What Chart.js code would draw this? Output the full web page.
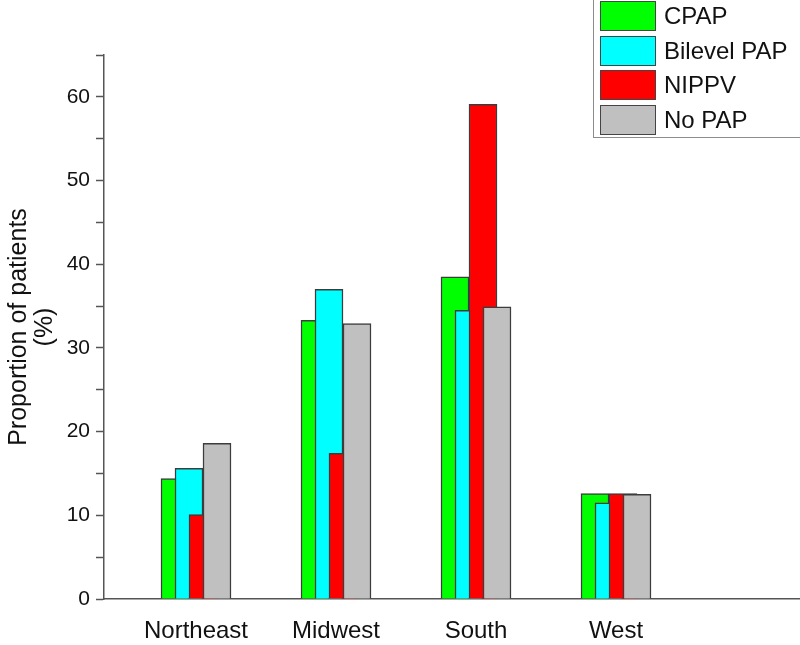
<!DOCTYPE html>
<html>
<head>
<meta charset="utf-8">
<script src="https://cdn.jsdelivr.net/npm/chart.js@4.4.0/dist/chart.umd.min.js"></script>
<style>
    html, body { margin: 0; padding: 0; background: #fff; }
    #wrap { position: relative; width: 800px; height: 645px; overflow: hidden; }
    #legend {
        position: absolute; left: 593px; top: -10px; width: 260px; height: 147px;
        border-left: 1.5px solid #8c8c8c; border-bottom: 1.5px solid #8c8c8c;
        font-family: "Liberation Sans", Arial, sans-serif; font-size: 24px; color: #111;
    }
    .item { position: absolute; left: 6px; height: 30px; display: flex; align-items: center; }
    .swatch { width: 54px; height: 28px; border: 1.5px solid #444; margin-right: 8px; }
</style>
</head>
<body>
<div id="wrap">
    <canvas id="chart" width="800" height="645"></canvas>
    <div id="legend"></div>
</div>
<script>
// Data (proportion of patients, %)
const regions = ['Northeast', 'Midwest', 'South', 'West'];
const seriesNames = ['CPAP', 'Bilevel PAP', 'NIPPV', 'No PAP'];
const cpap = [14.4, 33.3, 38.5, 12.6];
const bilevel = [15.6, 37.0, 34.5, 11.5];
const nippv = [10.1, 17.4, 59.1, 12.6];
const noPap = [18.6, 32.9, 34.9, 12.5];
const yMax = 65;

const seriesValues = [cpap, bilevel, nippv, noPap];
const seriesColors = ['#00ff00', '#00ffff', '#ff0000', '#c0c0c0'];

// bars overlap: each one shifted by a tenth of a region step
const shift = 0.1;

const datasets = seriesValues.map((vals, s) => ({
    label: seriesNames[s],
    data: vals.map((v, i) => ({ x: i + 1 + (s - 1.5) * shift, y: v })),
    backgroundColor: seriesColors[s],
    borderColor: '#3c3c3c',
    borderWidth: 1.5,
    barThickness: 28,
    grouped: false,
    order: seriesValues.length - 1 - s // later series painted on top
}));

const font = '"Liberation Sans", Arial, sans-serif';

new Chart(document.getElementById('chart'), {
    type: 'bar',
    data: { datasets: datasets },
    options: {
        responsive: false,
        animation: false,
        layout: { padding: { top: 55, right: 0, left: 0, bottom: 0 } },
        plugins: { legend: { display: false }, tooltip: { enabled: false } },
        scales: {
            x: {
                type: 'linear',
                offset: false,
                min: 1 - 92 / 140,
                max: 1 - 92 / 140 + 696 / 140,
                afterBuildTicks: (scale) => {
                    scale.ticks = regions.map((r, i) => ({ value: i + 1 }));
                },
                afterFit: (scale) => { scale.height = 46; },
                grid: { display: false, drawTicks: false },
                border: { display: true, color: '#555', width: 1.5 },
                ticks: {
                    padding: 18,
                    color: '#111',
                    font: { family: font, size: 24 },
                    callback: (v) => regions[Math.round(v) - 1]
                }
            },
            y: {
                min: 0,
                max: yMax,
                afterFit: (scale) => { scale.width = 104; },
                grid: { drawOnChartArea: false, drawTicks: true, tickLength: 8, tickColor: '#555', tickWidth: 1.5 },
                border: { display: true, color: '#555', width: 1.5 },
                ticks: {
                    stepSize: 5,
                    padding: 6,
                    color: '#111',
                    font: { family: font, size: 21 },
                    callback: (v) => (v % 10 === 0 ? v : '')
                },
                title: {
                    display: true,
                    text: ['Proportion of patients', '(%)'],
                    color: '#111',
                    font: { family: font, size: 25, lineHeight: 1.05 },
                    padding: { top: 6, bottom: 0 }
                }
            }
        }
    }
});

// legend box in the upper right corner
const legend = document.getElementById('legend');
seriesNames.forEach((name, s) => {
    const row = document.createElement('div');
    row.className = 'item';
    row.style.top = (11 + s * 34.5) + 'px';
    row.innerHTML = `<span class="swatch" style="background:${seriesColors[s]}"></span><span>${name}</span>`;
    legend.appendChild(row);
});
</script>
</body>
</html>
